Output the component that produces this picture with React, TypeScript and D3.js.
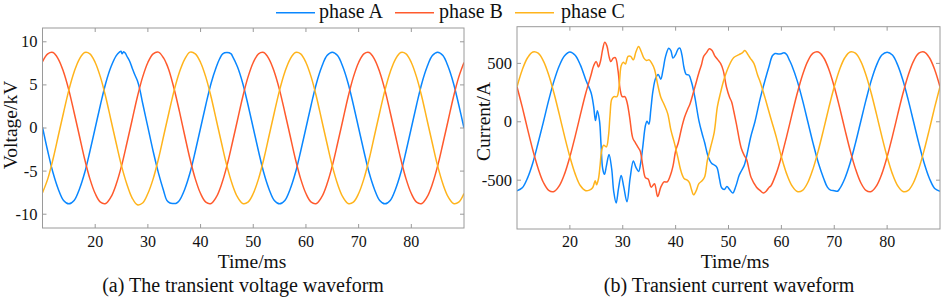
import React from 'react';
import * as d3 from 'd3';

type Pt = [number, number];

const phaseNames = ['phase A', 'phase B', 'phase C'];
const phaseColors = ['#0a87ff', '#ff5a2d', '#ffb41c'];
const timeTicks = [20, 30, 40, 50, 60, 70, 80];
const voltageTicks = [-10, -5, 0, 5, 10];
const currentTicks = [-500, 0, 500];

// Voltage (kV) vs time (ms)
const voltageA: Pt[] = [
  [10, 0.1], [11, -2.7], [12, -5.2], [13, -7.1], [14, -8.4], [15, -8.8], [16, -8.4], [17, -7.1], [18, -5.2], [19, -2.7],
  [20, 0], [21, 2.7], [22, 5.2], [23, 7.1], [24, 8.4], [24.6, 8.8], [24.9, 8.9], [25.1, 8.6], [25.4, 8.85], [25.7, 8.7],
  [26, 8.35], [26.5, 7.8], [27, 7.0], [27.5, 6.2], [28, 5.5], [28.5, 4.4], [29, 2.9], [30, 0.1], [31, -2.7], [32, -5.2],
  [33, -7.3], [33.6, -8.4], [34.2, -8.7], [34.8, -8.75], [35.3, -8.75], [35.7, -8.6], [36, -8.4], [37, -7.1], [38, -5.2], [39, -2.7],
  [40, 0], [41, 2.7], [42, 5.2], [43, 7.1], [43.6, 8.0], [44.2, 8.6], [45, 8.75], [45.8, 8.6], [46, 8.4], [47, 7.1],
  [48, 5.2], [49, 2.7], [50, 0], [51, -2.7], [52, -5.2], [53, -7.1], [54, -8.4], [55, -8.8], [56, -8.4], [57, -7.1],
  [58, -5.2], [59, -2.7], [60, 0], [61, 2.7], [62, 5.2], [63, 7.1], [64, 8.4], [65, 8.8], [66, 8.4], [67, 7.1],
  [68, 5.2], [69, 2.7], [70, 0], [71, -2.7], [72, -5.2], [73, -7.1], [74, -8.4], [75, -8.8], [76, -8.4], [77, -7.1],
  [78, -5.2], [79, -2.7], [80, 0], [81, 2.7], [82, 5.2], [83, 7.1], [84, 8.4], [85, 8.8], [86, 8.4], [87, 7.1],
  [88, 5.2], [89, 2.7], [90, 0],
];
const voltageB: Pt[] = [
  [10, 7.7], [11, 8.6], [12, 8.75], [13, 8.0], [14, 6.5], [15, 4.4], [16, 1.8], [17, -0.9], [18, -3.6], [19, -5.9],
  [20, -7.6], [21, -8.6], [22, -8.75], [23, -8.0], [24, -6.5], [25, -4.4], [26, -1.8], [27, 0.9], [28, 3.6], [29, 5.9],
  [30, 7.6], [31, 8.6], [32, 8.8], [33, 8.1], [33.5, 7.5], [34, 6.7], [35, 4.5], [36, 1.9], [37, -0.9], [38, -3.6], [39, -5.9],
  [40, -7.6], [41, -8.6], [42, -8.75], [43, -8.0], [44, -6.5], [45, -4.4], [46, -1.8], [47, 0.9], [48, 3.6], [49, 5.9],
  [50, 7.6], [51, 8.6], [52, 8.75], [53, 8.0], [54, 6.5], [55, 4.4], [56, 1.8], [57, -0.9], [58, -3.6], [59, -5.9],
  [60, -7.6], [61, -8.6], [62, -8.75], [63, -8.0], [64, -6.5], [65, -4.4], [66, -1.8], [67, 0.9], [68, 3.6], [69, 5.9],
  [70, 7.6], [71, 8.6], [72, 8.75], [73, 8.0], [74, 6.5], [75, 4.4], [76, 1.8], [77, -0.9], [78, -3.6], [79, -5.9],
  [80, -7.6], [81, -8.6], [82, -8.75], [83, -8.0], [84, -6.5], [85, -4.4], [86, -1.8], [87, 0.9], [88, 3.6], [89, 5.9],
  [90, 7.6],
];
const voltageC: Pt[] = [
  [10, -7.5], [11, -5.9], [12, -3.6], [13, -0.9], [14, 1.8], [15, 4.4], [16, 6.5], [17, 8.0], [18, 8.75], [19, 8.6],
  [20, 7.6], [21, 5.9], [22, 3.6], [23, 0.9], [24, -1.8], [25, -4.4], [26, -6.5], [27, -8.1], [28, -8.9], [29, -8.7],
  [30, -7.6], [31, -5.9], [32, -3.6], [33, -0.9], [34, 1.8], [35, 4.4], [36, 6.5], [37, 8.0], [38, 8.8], [39, 8.6],
  [40, 7.6], [41, 5.9], [42, 3.6], [43, 0.9], [44, -1.8], [45, -4.4], [46, -6.5], [47, -8.0], [48, -8.75], [49, -8.6],
  [50, -7.6], [51, -5.9], [52, -3.6], [53, -0.9], [54, 1.8], [55, 4.4], [56, 6.5], [57, 8.0], [58, 8.75], [59, 8.6],
  [60, 7.6], [61, 5.9], [62, 3.6], [63, 0.9], [64, -1.8], [65, -4.4], [66, -6.5], [67, -8.0], [68, -8.75], [69, -8.6],
  [70, -7.6], [71, -5.9], [72, -3.6], [73, -0.9], [74, 1.8], [75, 4.4], [76, 6.5], [77, 8.0], [78, 8.75], [79, 8.6],
  [80, 7.6], [81, 5.9], [82, 3.6], [83, 0.9], [84, -1.8], [85, -4.4], [86, -6.5], [87, -8.0], [88, -8.75], [89, -8.6],
  [90, -7.6],
];

// Current (A) vs time (ms)
const currentA: Pt[] = [
  [10, -590], [11, -565], [12, -480], [13, -350], [14, -180], [15, 0], [16, 185], [17, 350], [18, 480], [19, 565],
  [20, 598], [21, 570], [22, 485], [23, 360], [24, 250], [24.5, 130], [24.85, 10], [25.2, 95], [25.6, 10], [25.9, -200],
  [26.2, -400], [26.55, -450], [26.9, -380], [27.4, -280], [27.9, -400], [28.3, -600], [28.75, -695], [29.2, -570], [29.7, -460], [30.2, -560],
  [30.8, -685], [31.4, -480], [32.0, -335], [32.5, -390], [33.0, -425], [33.4, -350], [33.8, -210], [34.3, -30], [34.6, 5], [34.95, -20],
  [35.3, 100], [35.7, 260], [36.2, 370], [36.7, 405], [37.2, 365], [37.6, 440], [38.1, 560], [38.7, 630], [39.1, 610], [39.5, 545],
  [40.0, 575], [40.5, 625], [40.8, 630], [41.2, 570], [41.6, 460], [42.0, 405], [42.5, 400], [43.0, 340], [43.6, 220], [44.4, 10],
  [45.0, -100], [45.5, -180], [46.1, -290], [46.8, -355], [47.3, -370], [47.8, -390], [48.3, -490], [48.7, -565], [49.2, -580], [49.7, -555],
  [50.2, -580], [50.8, -610], [51.4, -550], [52.0, -460], [52.5, -415], [53.0, -370], [53.5, -280], [54.2, -130], [55, 0], [56, 200],
  [57, 370], [57.7, 480], [58.3, 565], [58.8, 585], [59.5, 580], [60, 583], [60.5, 590], [61, 575], [61.5, 530], [62, 480],
  [63, 350], [64, 185], [65, 0], [66, -185], [67, -353], [68, -485], [68.7, -560], [69.3, -585], [70, -590], [70.6, -595],
  [71, -575], [72, -485], [73, -353], [74, -185], [75, 0], [76, 185], [77, 353], [78, 485], [79, 571], [80, 595],
  [81, 571], [82, 485], [83, 353], [84, 185], [85, 0], [86, -185], [87, -353], [88, -485], [89, -571], [90, -595],
];
const currentB: Pt[] = [
  [10, 300], [11, 125], [12, -63], [13, -244], [14, -400], [15, -520], [16, -587], [17, -597], [18, -548], [19, -446],
  [20, -300], [21, -125], [22, 63], [23, 244], [24, 400], [24.5, 480], [25.0, 515], [25.4, 470], [25.8, 520], [26.2, 620],
  [26.6, 680], [27.0, 650], [27.4, 560], [27.75, 515], [28.2, 545], [28.6, 550], [29.1, 440], [29.5, 280], [29.9, 215], [30.4, 215],
  [30.8, 170], [31.3, 40], [31.9, -140], [32.4, -180], [32.9, -220], [33.3, -250], [33.8, -380], [34.3, -480], [34.8, -490], [35.4, -560],
  [36.0, -530], [36.6, -640], [37.2, -560], [37.8, -515], [38.4, -515], [39.0, -460], [39.5, -380], [40.0, -250], [40.5, -180], [41.1, -60],
  [41.7, 40], [42.3, 110], [42.7, 150], [43.6, 290], [44.4, 420], [44.9, 490], [45.3, 560], [45.8, 590], [46.4, 625], [46.9, 610],
  [47.4, 565], [48.0, 530], [48.5, 500], [49.0, 440], [49.6, 300], [50.2, 210], [50.6, 170], [51.0, 90], [51.5, -20], [52.4, -225],
  [53.0, -290], [53.4, -320], [54.3, -480], [55.3, -560], [56.0, -590], [56.6, -610], [57.2, -590], [57.7, -560], [58, -550], [59, -446],
  [60, -300], [61, -125], [62, 63], [63, 244], [64, 401], [65, 520], [66, 587], [67, 597], [68, 548], [69, 446],
  [70, 300], [71, 125], [72, -63], [73, -244], [74, -401], [75, -520], [76, -587], [77, -597], [78, -548], [79, -446],
  [80, -300], [81, -125], [82, 63], [83, 244], [84, 401], [85, 520], [86, 587], [87, 597], [88, 548], [89, 446],
  [90, 300],
];
const currentC: Pt[] = [
  [10, 300], [11, 446], [12, 548], [13, 597], [14, 587], [15, 520], [16, 401], [17, 244], [18, 63], [19, -125],
  [20, -300], [21, -446], [22, -548], [23, -590], [23.7, -585], [24.3, -565], [24.8, -505], [25.05, -540], [25.4, -490], [25.7, -380],
  [26.0, -250], [26.4, -200], [26.9, -215], [27.3, -120], [27.6, 60], [27.9, 190], [28.3, 215], [28.9, 215], [29.3, 300], [29.7, 480],
  [30.1, 510], [30.5, 495], [31.0, 560], [31.5, 560], [32.0, 530], [32.5, 600], [33.0, 645], [33.5, 600], [34.0, 545], [34.5, 525],
  [35.0, 530], [35.5, 500], [36.0, 450], [36.6, 320], [37.2, 210], [37.8, 150], [38.5, 70], [39.1, -70], [39.7, -170], [40.4, -300],
  [41.0, -420], [41.6, -485], [42.2, -500], [42.6, -520], [43.0, -580], [43.4, -625], [43.9, -590], [44.4, -530], [45.0, -505], [45.5, -470],
  [46.0, -330], [46.6, -220], [47.3, -90], [47.9, 130], [48.5, 250], [49.2, 370], [50.1, 480], [51.0, 550], [52.0, 575], [52.6, 590],
  [53.1, 610], [53.6, 580], [54.1, 545], [54.8, 500], [55.5, 400], [56, 340], [57, 190], [58, 30], [59, -125], [60, -300],
  [61, -446], [62, -548], [63, -597], [64, -587], [65, -520], [66, -401], [67, -244], [68, -63], [69, 125], [70, 300],
  [71, 446], [72, 548], [73, 597], [74, 587], [75, 520], [76, 401], [77, 244], [78, 63], [79, -125], [80, -300],
  [81, -446], [82, -548], [83, -597], [84, -587], [85, -520], [86, -401], [87, -244], [88, -63], [89, 125], [90, 300],
];

const FONT = '"Liberation Serif", "Times New Roman", serif';
const AXIS = '#9a9a9a';

interface PanelProps {
  id: string;
  left: number; right: number; top: number; bottom: number;
  yDomain: [number, number];
  yTicks: number[];
  series: Pt[][];
  yLabel: string; yLabelX: number; yLabelY: number;
  xLabelX: number;
  caption: string; captionX: number;
}

function Panel(p: PanelProps) {
  const x = d3.scaleLinear().domain([10, 90]).range([p.left, p.right]);
  const y = d3.scaleLinear().domain(p.yDomain).range([p.bottom, p.top]);
  const line = d3.line<Pt>().x(d => x(d[0])).y(d => y(d[1])).curve(d3.curveCatmullRom.alpha(0.5));
  const tl = 4;
  return (
    <g>
      <defs>
        <clipPath id={p.id}>
          <rect x={p.left} y={p.top} width={p.right - p.left} height={p.bottom - p.top} />
        </clipPath>
      </defs>
      <g clipPath={`url(#${p.id})`}>
        {p.series.map((s, i) => (
          <path key={i} d={line(s) || ''} fill="none" stroke={phaseColors[i]} strokeWidth={1.5} strokeLinejoin="round" />
        ))}
      </g>
      <rect x={p.left} y={p.top} width={p.right - p.left} height={p.bottom - p.top} fill="none" stroke={AXIS} strokeWidth={1} />
      {timeTicks.map(t => (
        <g key={t}>
          <line x1={x(t)} x2={x(t)} y1={p.bottom} y2={p.bottom - tl} stroke={AXIS} />
          <line x1={x(t)} x2={x(t)} y1={p.top} y2={p.top + tl} stroke={AXIS} />
          <text x={x(t)} y={246.5} textAnchor="middle" fontSize={16} fontFamily={FONT} fill="#111">{t}</text>
        </g>
      ))}
      {p.yTicks.map(v => (
        <g key={v}>
          <line x1={p.left} x2={p.left + tl} y1={y(v)} y2={y(v)} stroke={AXIS} />
          <line x1={p.right} x2={p.right - tl} y1={y(v)} y2={y(v)} stroke={AXIS} />
          <text x={p.left - 5} y={y(v)} dy="0.33em" textAnchor="end" fontSize={16.5} fontFamily={FONT} fill="#111">{v}</text>
        </g>
      ))}
      <text x={p.xLabelX} y={268} textAnchor="middle" fontSize={19.5} fontFamily={FONT} fill="#111">Time/ms</text>
      <text transform={`translate(${p.yLabelX},${p.yLabelY}) rotate(-90)`} textAnchor="middle" fontSize={19.5} fontFamily={FONT} fill="#111">{p.yLabel}</text>
      <text x={p.captionX} y={292} textAnchor="middle" fontSize={20} fontFamily={FONT} fill="#111">{p.caption}</text>
    </g>
  );
}

const legendItems = [
  { lineX: 276, textX: 319 },
  { lineX: 395, textX: 439 },
  { lineX: 515, textX: 561 },
];

export default function App() {
  return (
    <svg width={941} height={300} style={{ position: 'absolute', left: 0, top: 0, background: '#fff' }}>
      <rect x={0} y={0} width={941} height={300} fill="#fff" />
      <Panel
        id="clipV" left={42.5} right={464} top={28} bottom={228}
        yDomain={[-11.6, 11.6]} yTicks={voltageTicks}
        series={[voltageA, voltageB, voltageC]}
        yLabel="Voltage/kV" yLabelX={16.5} yLabelY={125}
        xLabelX={252} caption="(a) The transient voltage waveform" captionX={243}
      />
      <Panel
        id="clipI" left={517} right={940} top={26.7} bottom={229}
        yDomain={[-918, 814]} yTicks={currentTicks}
        series={[currentA, currentB, currentC]}
        yLabel="Current/A" yLabelX={490} yLabelY={121.5}
        xLabelX={735} caption="(b) Transient current waveform" captionX={729}
      />
      {legendItems.map((it, i) => (
        <g key={i}>
          <line x1={it.lineX} x2={it.lineX + 39} y1={12.7} y2={12.7} stroke={phaseColors[i]} strokeWidth={1.5} />
          <text x={it.textX} y={18.3} fontSize={20} fontFamily={FONT} fill="#111">{phaseNames[i]}</text>
        </g>
      ))}
    </svg>
  );
}
